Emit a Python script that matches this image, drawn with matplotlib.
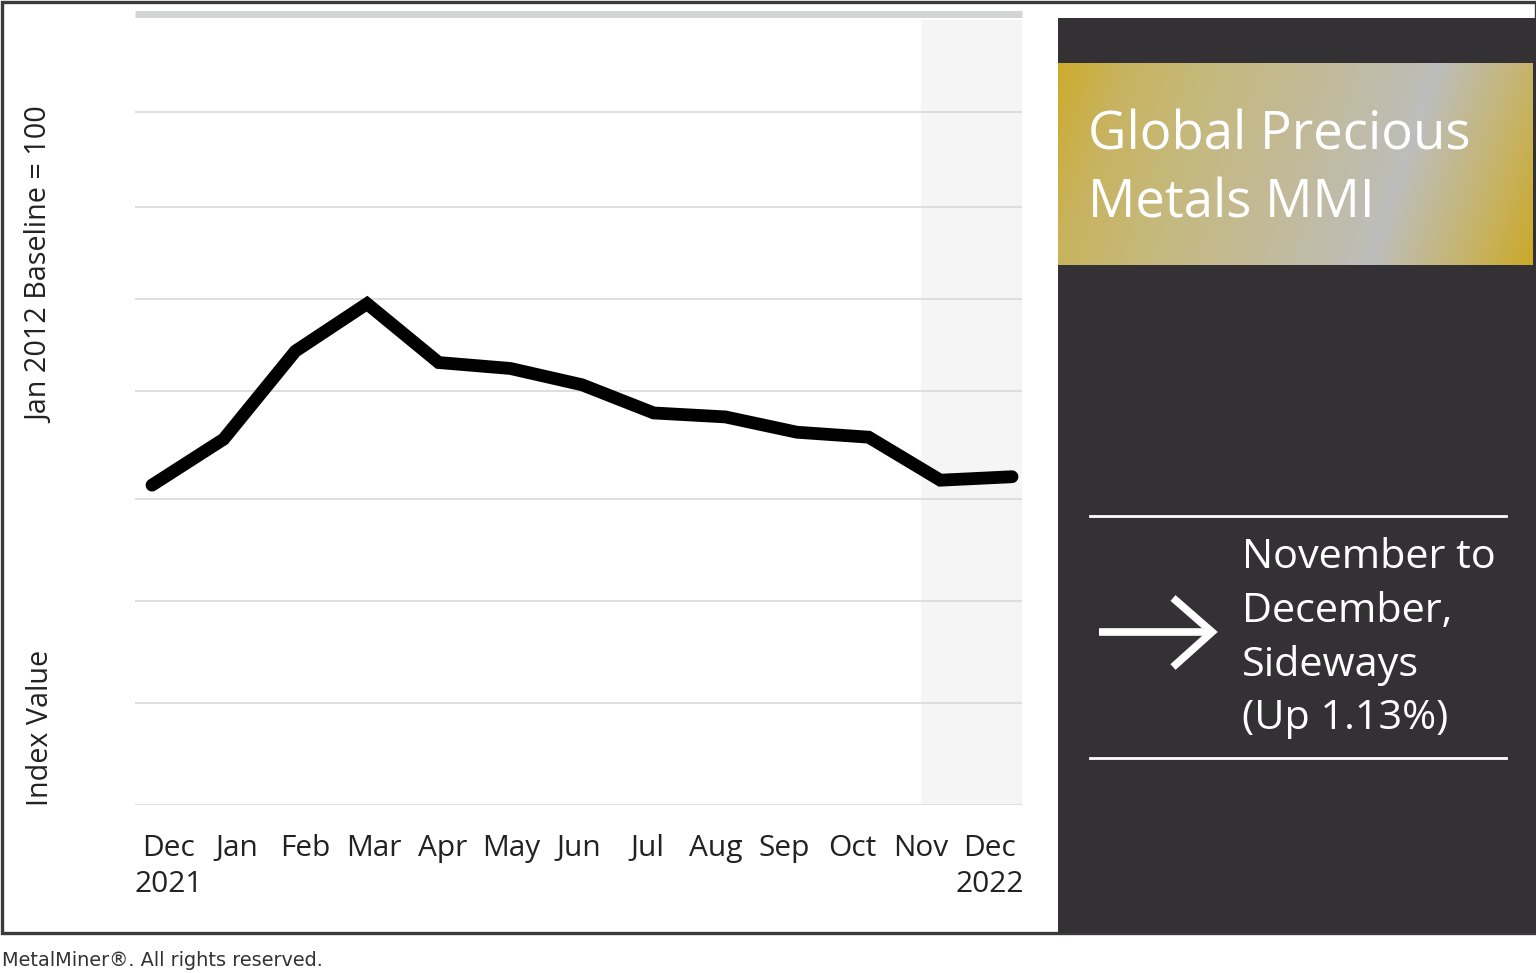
import numpy as np
import matplotlib
matplotlib.use("Agg")
import matplotlib.pyplot as plt
from matplotlib.patches import Rectangle
from matplotlib.colors import LinearSegmentedColormap

# ---------------- data ----------------
months = ["Dec\n2021", "Jan", "Feb", "Mar", "Apr", "May", "Jun",
          "Jul", "Aug", "Sep", "Oct", "Nov", "Dec\n2022"]
index_values = [647, 740, 918, 1014, 895, 883, 850, 793, 785, 754, 744, 657, 664]
grid_levels = [0, 206, 413, 619, 837, 1024, 1210, 1402]
top_level = 1600

title_lines = ["Global Precious", "Metals MMI"]
summary_lines = ["November to", "December,", "Sideways", "(Up 1.13%)"]
ylabel_top = "Jan 2012 Baseline = 100"
ylabel_bottom = "Index Value"
footer = "MetalMiner\u00ae. All rights reserved."

# ---------------- figure ----------------
W, H = 1536, 973
fig = plt.figure(figsize=(W / 100, H / 100), dpi=100)
fig.patch.set_facecolor("white")

FONT = "Open Sans"

# main axes (pixel box: x 135..1022, y 14..805)
ax = fig.add_axes([135 / W, 1 - 805 / H, 887 / W, 791 / H])
x = np.arange(len(months))
xl, xr = -0.237, 12.139
ax.set_xlim(xl, xr)
ax.set_ylim(0, top_level)

# shaded last-period band
ax.axvspan(x[-2] - 0.27, xr, ymin=0, ymax=0.992, color="#f4f5f4", zorder=0, lw=0)

for g in grid_levels:
    ax.axhline(g, color="#dedede", lw=1.4, zorder=1)
ax.plot([xl, xr], [top_level, top_level], color="#d3d4d4", lw=5, zorder=1,
        clip_on=False, solid_capstyle="butt")

ax.plot(x, index_values, color="black", lw=9.2, solid_capstyle="round",
        solid_joinstyle="miter", zorder=3)

for s in ax.spines.values():
    s.set_visible(False)
ax.set_yticks([])
label_start, label_step = 0.237, 0.954
ax.set_xticks([label_start + i * label_step for i in range(len(months))])
ax.set_xticklabels(months, fontsize=21.5, family=FONT, color="#222222",
                   linespacing=1.3)
ax.tick_params(axis="x", length=0, pad=21)
ax.set_facecolor("none")

# overlay axes in pixel coordinates for decorations
ov = fig.add_axes([0, 0, 1, 1], zorder=5)
ov.axis("off")
ov.patch.set_alpha(0)

# outer border
ov.add_patch(Rectangle((1.5, 1.5), W - 1.5, 931, fill=False,
                       edgecolor="#3a3a3a", lw=2.4))

# dark side panel
ov.add_patch(Rectangle((1058, 18), W - 1058, 915, facecolor="#333133",
                       edgecolor="none"))

# gold gradient band
gx0, gx1, gy0, gy1 = 1058, 1533, 63, 265
gw, gh = gx1 - gx0, gy1 - gy0
xx, yy = np.meshgrid(np.arange(gw), np.arange(gh))
u = (xx + 0.34 * yy) / (gw + 0.34 * gh)
gold_cmap = LinearSegmentedColormap.from_list("gold", [
    (0.0, "#cdab2e"), (0.12, "#c8b35e"), (0.30, "#c5b97f"), (0.50, "#c2ba9a"),
    (0.66, "#bebdb3"), (0.70, "#bcbdbd"), (0.75, "#c0bba5"), (0.87, "#c6b46c"),
    (1.0, "#cba92a")])
ov.imshow(u, cmap=gold_cmap, extent=(gx0, gx1, gy1, gy0), aspect="auto",
          interpolation="bilinear", zorder=1)
ov.set_xlim(0, W)
ov.set_ylim(H, 0)

for i, ln in enumerate(title_lines):
    ov.text(1088, 136 + i * 68, ln, color="white", fontsize=38,
            family=FONT, va="center", ha="left", zorder=3)

# separator lines
ov.plot([1090, 1506], [516, 516], color="white", lw=2, zorder=3)
ov.plot([1090, 1506], [758, 758], color="white", lw=2, zorder=3)

# arrow
ov.plot([1099, 1212], [632, 632], color="white", lw=5.5, zorder=3,
        solid_capstyle="butt")
ov.plot([1173, 1212, 1173], [598, 632, 667], color="white", lw=5.5, zorder=3,
        solid_joinstyle="miter", solid_capstyle="butt")

for i, ln in enumerate(summary_lines):
    ov.text(1242, 558 + i * 53.5, ln, color="white", fontsize=29.8, family=FONT,
            va="center", ha="left", zorder=3)

# y labels
fig.text(41 / W, 1 - 265 / H, ylabel_top, rotation=90, fontsize=20.7,
         family=FONT, color="#222222", ha="center", va="center")
fig.text(41 / W, 1 - 806 / H, ylabel_bottom, rotation=90, fontsize=20.7,
         family=FONT, color="#222222", ha="center", va="bottom")

# footer
fig.text(2 / W, 1 - 960 / H, footer, fontsize=13.9, family="DejaVu Sans",
         color="#333333", ha="left", va="center")

fig.savefig("out.png", dpi=100)
